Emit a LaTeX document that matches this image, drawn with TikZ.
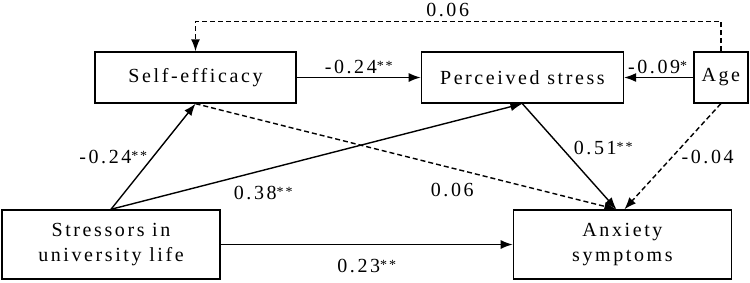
\documentclass[tikz,border=0pt]{standalone}
\usepackage{fontspec}
\setmainfont[LetterSpace=13]{Liberation Serif}
\usepackage{tikz}
\usetikzlibrary{arrows.meta,positioning}

\newcommand{\pstar}[1]{{\fontsize{14}{14}\selectfont\raisebox{3pt}{#1}}}

\begin{document}
\begin{tikzpicture}[
        x=1pt, y=-1pt,
        font=\fontsize{20}{25}\selectfont,
        box/.style={draw, line width=1.4pt, minimum height=51pt, inner sep=0pt, align=center},
        arrow/.style={-{Latex[length=12pt,width=9pt]}, line width=1.4pt},
        dasharrow/.style={arrow, dash pattern=on 5pt off 3pt}
    ]
        \useasboundingbox (0,0) rectangle (750,282);

        \node[box, minimum width=201pt] (se) at (195.5,77.5) {Self-efficacy};
        \node[box, minimum width=202pt, right=124pt of se] (ps) {Perceived stress};
        \node[box, minimum width=54pt, right=69pt of ps] (age) {Age};
        \node[box, minimum width=218pt, minimum height=69pt] (stress) at (111,244.5) {Stressors in\\university life};
        \node[box, minimum width=218pt, minimum height=69pt, right=292pt of stress] (anx) {Anxiety\\symptoms};

        \coordinate (anxl) at ([xshift=-6pt]anx.north);
        \coordinate (anxr) at ([xshift=2pt]anx.north);

        \draw[arrow] (se) -- node[above] {-0.24\pstar{**}} (ps);
        \draw[arrow] (age) -- node[above, xshift=-1pt] {-0.09\pstar{*}} (ps);
        \draw[dasharrow] (age.north) -- ++(0,-30) -| node[pos=0.26, above] {0.06} (se.north);
        \draw[arrow] (stress.north) -- node[left, pos=0.5, xshift=-2pt] {-0.24\pstar{**}} (se.south);
        \draw[arrow] (stress.north) -- node[below, pos=0.37, yshift=-12pt] {0.38\pstar{**}} (ps.south);
        \draw[dasharrow] (se.south) -- node[below, pos=0.61, yshift=-11pt] {0.06} (anxl);
        \draw[arrow] (ps.south) -- node[right, pos=0.42, xshift=8pt] {0.51\pstar{**}} (anxl);
        \draw[dasharrow] (age.south) -- node[right, pos=0.5, xshift=5pt] {-0.04} (anxr);
        \draw[arrow] (stress) -- node[below, yshift=-11pt] {0.23\pstar{**}} (anx);
    \end{tikzpicture}
\end{document}
